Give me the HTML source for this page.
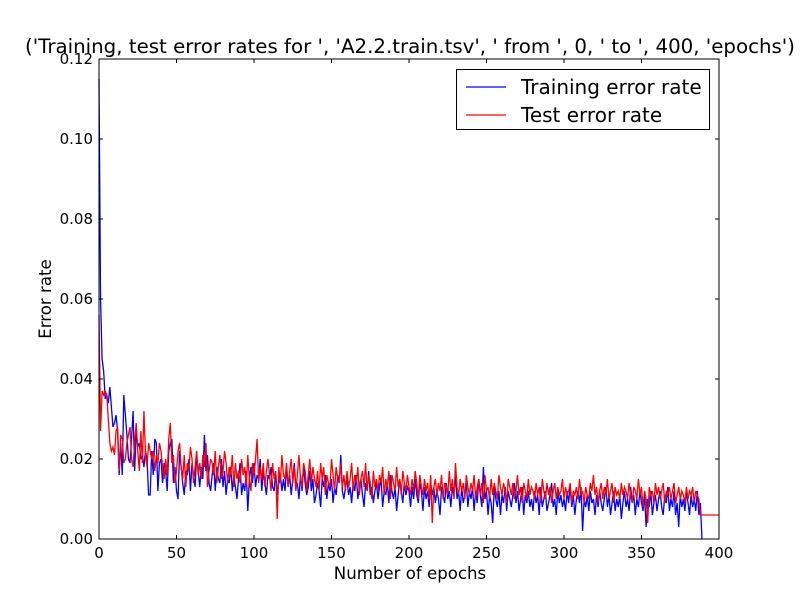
<!DOCTYPE html>
<html><head><meta charset="utf-8"><style>
body{margin:0;background:#fff}
svg{font-family:"DejaVu Sans","Liberation Sans",sans-serif}
</style></head><body>
<svg id="c" width="800" height="600" xmlns="http://www.w3.org/2000/svg">
<rect width="800" height="600" fill="#fff"/>
<text x="410" y="53" font-size="19.8" text-anchor="middle">('Training, test error rates for ', 'A2.2.train.tsv', ' from ', 0, ' to ', 400, 'epochs')</text>
<g id="plot"></g>
<text x="410" y="579" font-size="16.6" text-anchor="middle">Number of epochs</text>
<text x="51" y="299" font-size="16.6" text-anchor="middle" transform="rotate(-90 51 299)">Error rate</text>
</svg>
<script>
const xTicks=[0,50,100,150,200,250,300,350,400];
const yTicks=[0,0.02,0.04,0.06,0.08,0.10,0.12];
const yTickLabels=["0.00","0.02","0.04","0.06","0.08","0.10","0.12"];
const trainErr=[115,60,45,42,35,36,34,38,33,28,29,31,27,16,24,16,36,31,26,20,
19,25,32,17,27,23,24,20,21,18,22,20,11,11,22,16,25,24,12,19,
20,14,19,17,12,22,24,25,14,18,12,10,22,18,14,11,17,16,20,12,
19,16,13,21,17,13,18,15,26,17,21,14,12,16,19,12,18,15,14,20,
13,17,11,15,14,18,12,16,13,10,15,19,11,14,12,17,7,15,18,14,
19,13,16,15,20,12,17,14,11,16,15,18,13,12,17,11,14,16,12,15,
12,18,13,16,11,15,19,13,14,10,16,12,18,14,11,13,17,12,15,9,
11,14,12,8,15,13,16,10,14,12,15,9,13,11,16,14,21,12,10,13,
15,11,13,9,14,12,16,10,13,15,11,8,14,12,17,11,13,9,12,14,
10,13,15,8,12,11,14,9,16,12,10,13,7,11,15,12,9,14,11,13,
12,8,13,10,15,11,9,14,12,7,13,10,12,8,14,11,13,9,12,10,
6,13,11,9,14,10,12,8,13,11,16,10,12,7,13,9,11,14,8,12,
10,13,7,12,9,15,11,8,18,10,12,6,11,9,4,13,10,8,12,6,
11,9,13,7,12,10,8,11,14,9,12,7,10,13,6,11,9,12,8,10,
7,12,9,11,6,13,8,10,12,7,9,11,14,8,10,6,12,9,11,8,
10,7,12,9,13,8,11,6,10,12,9,13,2,10,8,11,7,12,9,10,
6,11,8,12,9,7,10,13,8,11,6,9,12,7,10,8,11,5,9,12,
8,10,7,13,9,11,6,10,8,12,9,7,11,3,10,8,12,6,9,11,
7,10,12,8,6,11,9,13,7,10,8,12,6,9,3,11,8,10,7,12,
9,6,11,8,10,7,12,6,9,0];
const testErr=[56,27,37,36,37,36,30,24,22,23,21,27,28,17,26,25,19,20,24,26,
28,20,18,24,29,22,17,27,19,32,21,18,24,22,20,22,17,21,19,24,
22,18,15,20,16,25,29,19,21,14,17,22,24,18,15,21,13,19,17,23,
20,14,18,22,16,19,15,21,18,24,13,17,20,19,16,22,14,18,21,15,
17,22,19,14,18,16,21,13,19,15,17,14,20,16,18,13,21,15,12,19,
16,20,25,14,18,15,19,13,17,20,16,12,19,15,17,5,18,14,21,16,
15,19,13,17,20,14,18,12,16,21,15,13,19,17,12,16,20,14,18,15,
13,17,12,19,15,18,11,16,14,13,20,16,12,18,15,14,19,13,16,12,
17,13,15,19,12,16,14,18,11,15,17,13,19,12,16,14,10,17,13,15,
12,16,14,18,11,15,13,17,10,16,14,12,18,13,15,11,17,14,12,16,
13,11,15,12,17,14,10,16,13,11,15,12,14,10,16,4,13,15,11,14,
12,16,10,14,13,11,17,12,15,10,19,13,11,15,12,14,10,16,13,11,
14,12,16,10,13,15,11,14,9,16,12,13,10,15,11,14,12,10,16,13,
11,14,12,9,15,13,11,14,10,12,16,11,13,9,14,12,10,15,11,13,
12,10,14,11,13,9,15,12,10,14,11,13,9,12,14,10,13,11,12,15,
10,13,11,12,14,9,12,11,13,10,15,11,12,9,13,11,10,14,12,16,
11,13,9,12,14,10,13,11,15,10,12,14,9,13,11,12,10,14,11,13,
12,10,14,11,9,13,12,10,15,11,13,8,12,10,4,13,11,12,9,14,
11,13,10,12,14,9,12,11,13,10,12,14,9,11,13,10,12,11,9,13,
10,12,11,13,9,12,11,10,6,6,6,6,6,6,6,6,6,6,6,6,6];
const L=99,R=719,T=59,B=539;
const xs=v=>L+(v-0)/(400-0)*(R-L);
const ys=v=>B-(v/0.12)*(B-T);
const NS="http://www.w3.org/2000/svg";
const g=document.getElementById('plot');
function mk(tag,attrs){const e=document.createElementNS(NS,tag);for(const k in attrs)e.setAttribute(k,attrs[k]);g.appendChild(e);return e;}
function series(arr,color,name){
  const d=arr.map((v,i)=>(i?'L':'M')+xs(i).toFixed(2)+','+ys(v/1000).toFixed(2)).join('');
  const p=mk('path',{d:d,fill:'none',stroke:color,'stroke-width':1.3});
  
  
}
series(trainErr,'#0000ff','training-error-line');
series(testErr,'#ff0000','test-error-line');
const frame=mk('rect',{x:L,y:T,width:R-L,height:B-T,fill:'none',stroke:'#000','stroke-width':1});


xTicks.forEach(t=>{
  const x=xs(t);
  mk('line',{x1:x,x2:x,y1:B,y2:B-4,stroke:'#000'});
  mk('line',{x1:x,x2:x,y1:T,y2:T+4,stroke:'#000'});
  const tx=mk('text',{x:x,y:B+19,'font-size':15,'text-anchor':'middle'});
  tx.textContent=t;
  
  
});
yTicks.forEach((t,i)=>{
  const y=ys(t);
  mk('line',{x1:L,x2:L+4,y1:y,y2:y,stroke:'#000'});
  mk('line',{x1:R,x2:R-4,y1:y,y2:y,stroke:'#000'});
  const tx=mk('text',{x:L-6,y:y+5,'font-size':15,'text-anchor':'end'});
  tx.textContent=yTickLabels[i];
  
  
});
const lg=mk('rect',{x:456.5,y:69.5,width:253,height:60,fill:'#fff',stroke:'#000'});


[['Training error rate','#0000ff',87],['Test error rate','#ff0000',115]].forEach(([lab,c,y])=>{
  mk('line',{x1:466,x2:506,y1:y,y2:y,stroke:c,'stroke-width':1.3});
  const tx=mk('text',{x:521,y:y+7,'font-size':20});
  tx.textContent=lab;
  
  
});
</script>
</body></html>
